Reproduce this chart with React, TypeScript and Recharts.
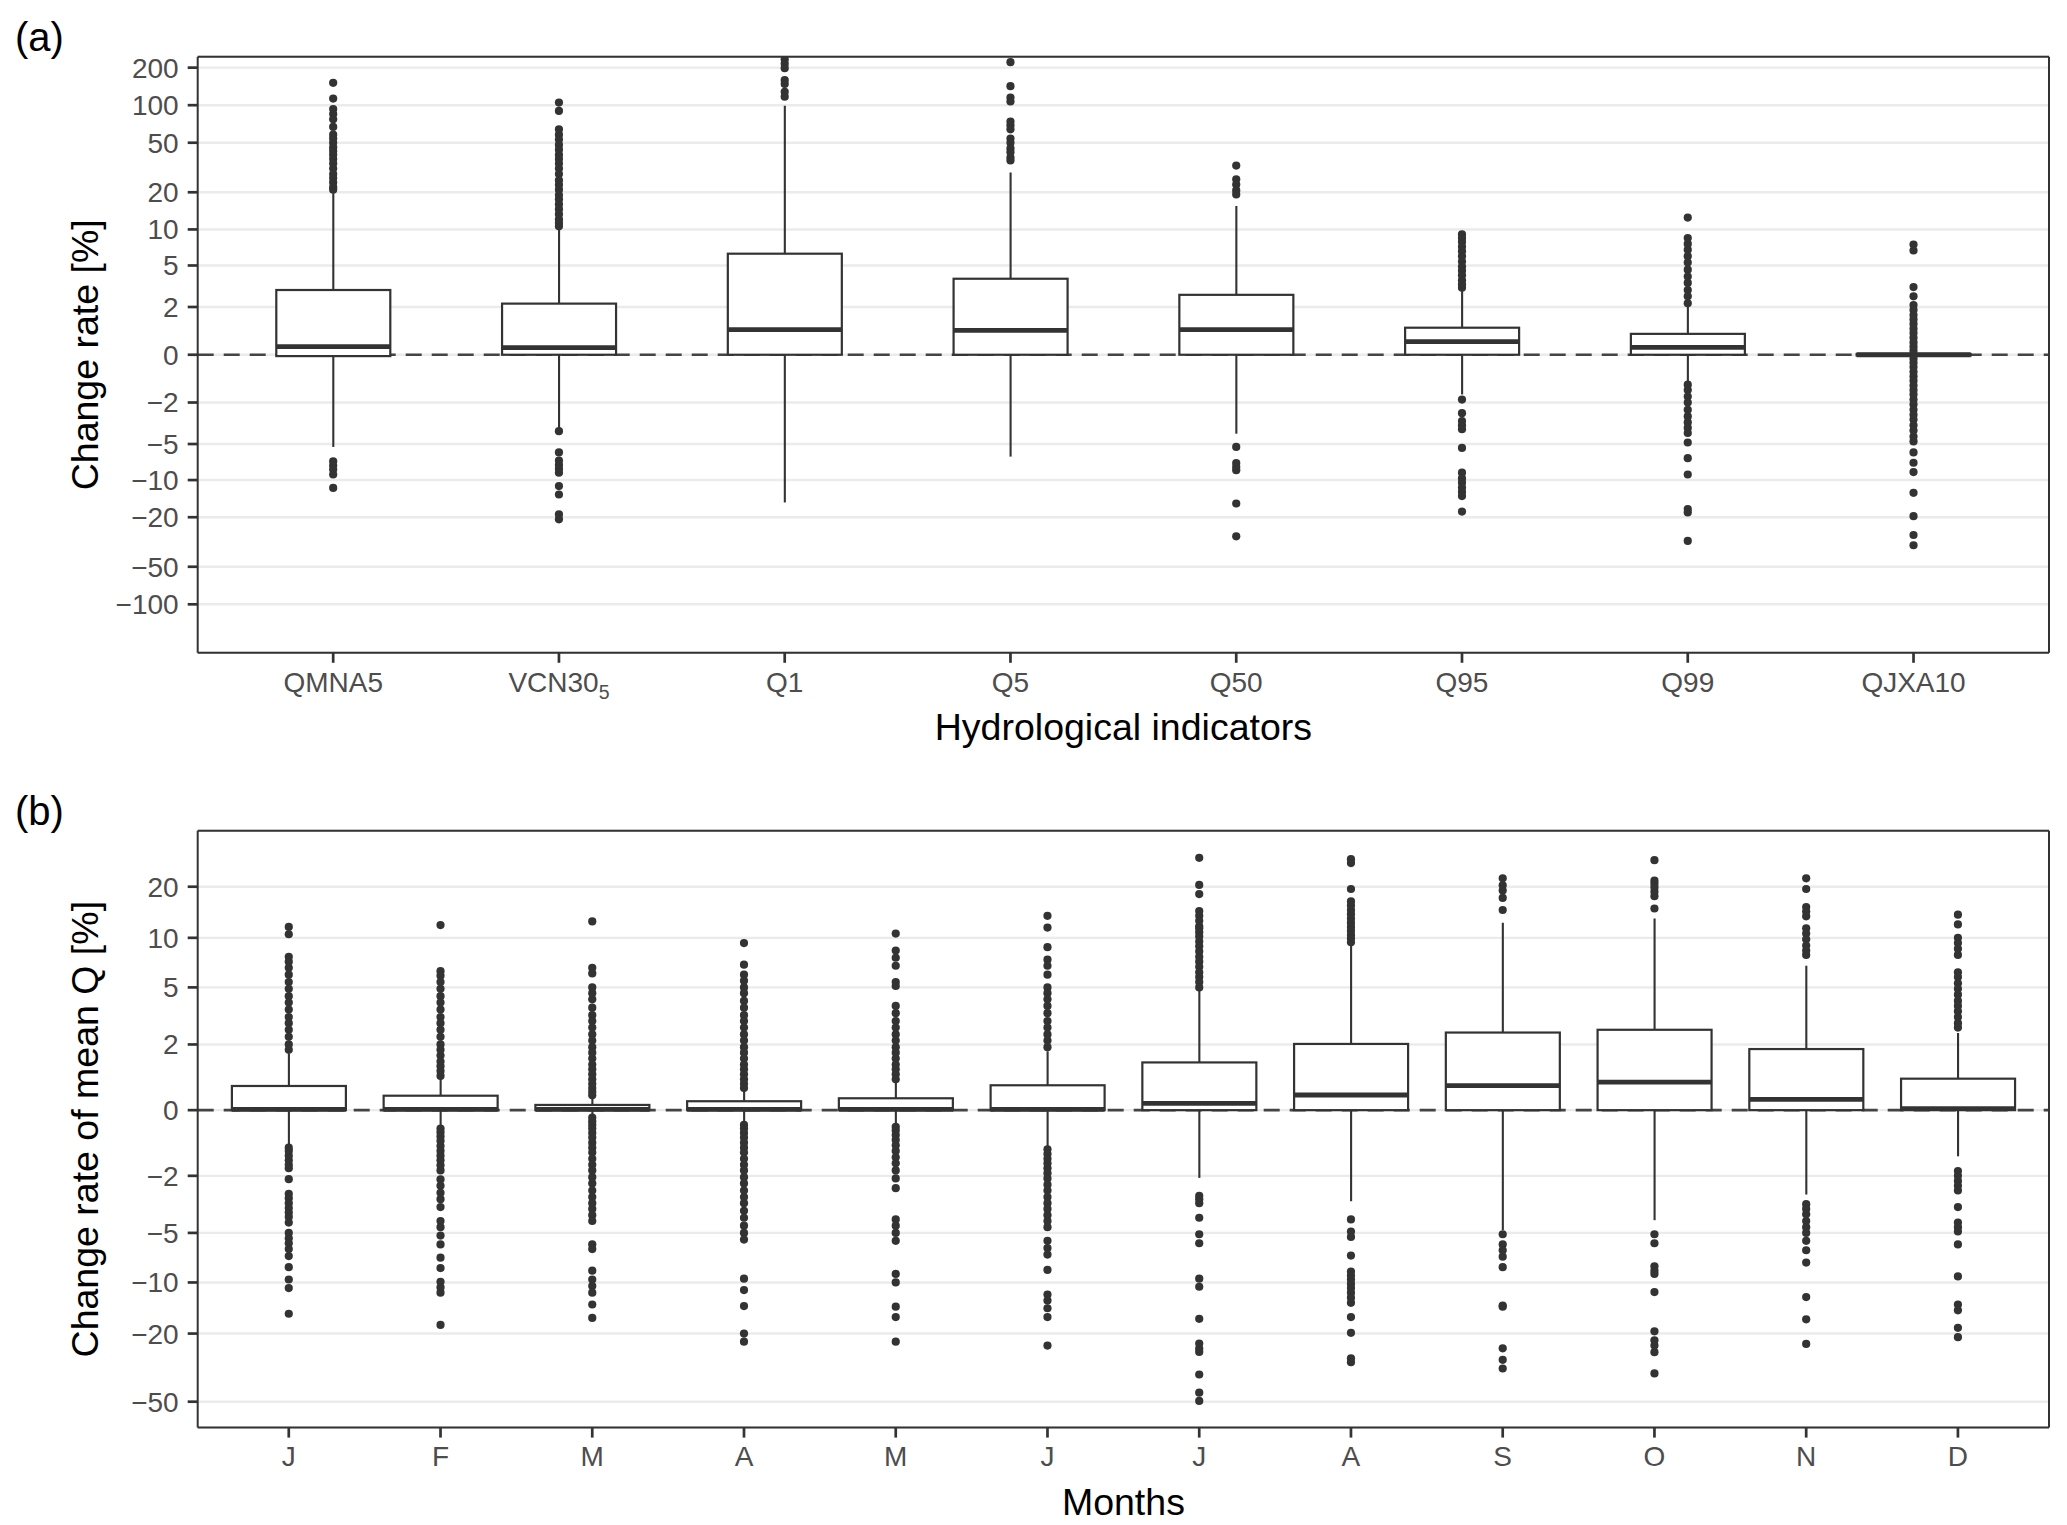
import React from 'react'
import { ComposedChart, Bar, Scatter, XAxis, YAxis, CartesianGrid, ReferenceLine } from 'recharts'

const FONT = '"Liberation Sans", Arial, Helvetica, sans-serif'
const INK = '#333333'
const TICK_INK = '#4D4D4D'
const TICK_SIZE = 28
const W = 2067
const H = 1525

// pseudo-log axis, same as scales::pseudo_log_trans(): asinh(x / 2)
const tr = (v: number) => Math.asinh(v / 2)

// ---- (a) hydrological indicators ----
const indicatorNames = ['QMNA5', 'VCN30_5', 'Q1', 'Q5', 'Q50', 'Q95', 'Q99', 'QJXA10']
const indicatorLower = [-5.3, -3.6, -15.2, -6.4, -4.06, -1.6, -1.06, -0.03]
const indicatorQ1 = [-0.05, 0, 0, 0, 0, 0, 0, -0.03]
const indicatorMedian = [0.3, 0.26, 0.96, 0.93, 0.96, 0.49, 0.27, 0]
const indicatorQ3 = [3.0, 2.18, 6.3, 3.82, 2.69, 1.04, 0.79, 0.03]
const indicatorUpper = [19.6, 10.0, 99, 28.8, 15.5, 3.0, 2.1, 0.03]
const indicatorOutliers = [
  [151, 113, 93, 85, 77, 67, 58, 54, 50, 46, 43, 40, 37, 34, 31, 28, 26, 24, 22, 21, -7.0, -7.6, -8.2, -9.0, -11.6],
  [105, 90, 64, 58, 53, 48, 44, 40, 37, 34, 31, 28, 25, 23, 21, 19, 17.5, 16, 14.6, 13.3, 12.1, 11.3, 10.6,
    -3.85, -5.9, -6.9, -7.5, -8.1, -8.7, -11.2, -13.1, -19.0, -20.8],
  [233, 215, 198, 159, 148, 128, 117],
  [221, 142, 115, 107, 74, 69, 64, 54, 50, 45, 42, 38, 36],
  [32.8, 25.4, 23.1, 20.7, 19.2, -5.3, -7.25, -7.8, -8.3, -15.5, -28.5],
  [9.1, 8.5, 7.9, 7.2, 6.6, 6.0, 5.4, 4.9, 4.5, 4.1, 3.7, 3.4, 3.16,
    -1.85, -2.6, -3.1, -3.4, -3.7, -5.4, -8.7, -9.7, -10.5, -11.5, -12.5, -13.5, -18],
  [12.5, 8.5, 7.6, 6.8, 6.0, 5.3, 4.6, 4.0, 3.5, 3.0, 2.6, 2.2,
    -1.16, -1.4, -1.7, -2.0, -2.4, -2.8, -3.2, -3.6, -4.0, -4.85, -6.6, -9.0, -17.2, -18.3, -31],
  [7.5, 6.7, 3.2, 2.6, 2.1, 1.85, 1.6, 1.4, 1.2, 1.0, 0.82, 0.64, 0.46, 0.3, 0.15,
    -0.15, -0.3, -0.46, -0.64, -0.82, -1.0, -1.2, -1.4, -1.6, -1.85, -2.1, -2.4, -2.7, -3.0, -3.4, -3.8, -4.3, -4.75,
    -5.9, -7.2, -8.6, -12.7, -19.6, -27.8, -33.6],
]
const indicatorTicks = [200, 100, 50, 20, 10, 5, 2, 0, -2, -5, -10, -20, -50, -100]

// ---- (b) months ----
const monthIds = ['Jan', 'Feb', 'Mar', 'Apr', 'May', 'Jun', 'Jul', 'Aug', 'Sep', 'Oct', 'Nov', 'Dec']
const monthLabels = ['J', 'F', 'M', 'A', 'M', 'J', 'J', 'A', 'S', 'O', 'N', 'D']
const monthLower = [-1.0, -0.44, -0.15, -0.34, -0.4, -1.04, -2.08, -3.1, -4.8, -4.15, -2.78, -1.32]
const monthQ1 = [0, 0, 0, 0, 0, 0, 0, 0, 0, 0, 0, 0]
const monthMedian = [0.02, 0.02, 0.02, 0.02, 0.02, 0.02, 0.18, 0.41, 0.67, 0.77, 0.29, 0.04]
const monthQ3 = [0.66, 0.39, 0.14, 0.24, 0.32, 0.68, 1.37, 2.02, 2.48, 2.6, 1.83, 0.87]
const monthUpper = [1.67, 0.9, 0.33, 0.54, 0.78, 1.75, 4.8, 9.0, 12.3, 13.0, 6.8, 2.46]
const monthOutliers = [
  [11.6, 10.5, 7.7, 7.2, 6.6, 6.0, 5.4, 4.9, 4.4, 4.0, 3.6, 3.2, 2.9, 2.6, 2.3, 2.0, 1.8,
    -1.05, -1.15, -1.3, -1.45, -1.6, -1.72, -2.13, -2.75, -2.95, -3.2, -3.45, -3.7, -3.95, -4.3,
    -5.0, -5.4, -5.8, -6.3, -6.95, -8.1, -9.6, -10.8, -15.3],
  [11.9, 6.3, 5.9, 5.4, 4.9, 4.4, 4.0, 3.6, 3.2, 2.9, 2.6, 2.3, 2.0, 1.8, 1.6, 1.4, 1.25, 1.1, 0.95,
    -0.5, -0.6, -0.72, -0.85, -1.0, -1.15, -1.3, -1.45, -1.62, -1.8, -2.14, -2.4, -2.7, -3.0, -3.4,
    -4.2, -4.6, -5.2, -5.9, -7.1, -8.2, -9.9, -10.7, -11.5, -17.8],
  [12.5, 6.6, 6.1, 5.0, 4.6, 4.2, 3.7, 3.3, 3.0, 2.7, 2.4, 2.15, 1.9, 1.7, 1.5, 1.3, 1.15, 1.0, 0.85, 0.72, 0.6, 0.5, 0.4,
    -0.2, -0.3, -0.4, -0.5, -0.62, -0.75, -0.9, -1.05, -1.2, -1.4, -1.6, -1.8, -2.05, -2.3, -2.6, -2.9, -3.2, -3.5,
    -3.85, -4.2, -5.9, -6.3, -8.5, -9.6, -10.5, -11.5, -13.5, -16.2],
  [9.3, 6.9, 6.0, 5.5, 5.0, 4.6, 4.1, 3.7, 3.3, 3.0, 2.7, 2.4, 2.15, 1.9, 1.7, 1.5, 1.3, 1.15, 1.0, 0.85, 0.72, 0.6,
    -0.4, -0.5, -0.62, -0.75, -0.9, -1.05, -1.2, -1.4, -1.6, -1.8, -2.05, -2.3, -2.6, -2.9, -3.2, -3.6, -4.0,
    -4.5, -5.0, -5.5, -9.5, -11.1, -13.8, -20.0, -22.3],
  [10.6, 8.4, 7.6, 6.8, 5.4, 5.1, 3.8, 3.4, 3.0, 2.7, 2.4, 2.15, 1.9, 1.7, 1.5, 1.3, 1.15, 1.0, 0.85,
    -0.45, -0.55, -0.68, -0.82, -0.98, -1.15, -1.35, -1.55, -1.8, -2.1, -2.5,
    -4.1, -4.5, -5.0, -5.6, -8.9, -10.0, -13.9, -16.0, -22.3],
  [13.5, 11.5, 8.8, 7.4, 6.8, 6.0, 5.0, 4.6, 4.2, 3.8, 3.4, 3.0, 2.7, 2.4, 2.15, 1.9,
    -1.1, -1.25, -1.4, -1.55, -1.72, -1.9, -2.1, -2.35, -2.6, -2.9, -3.2, -3.5, -3.85, -4.2, -4.6,
    -5.6, -6.2, -6.8, -8.4, -11.8, -12.8, -14.2, -16.0, -23.5],
  [29.5, 20.5, 18.1, 14.4, 13.5, 12.6, 11.7, 11.4, 10.8, 10.2, 9.5, 8.9, 8.3, 7.7, 7.2, 6.7, 6.2, 5.8, 5.4, 5.0,
    -2.84, -3.0, -3.2, -4.0, -5.1, -5.8, -9.5, -10.6, -16.4, -22.9, -24.5, -25.6, -34.7, -44.3, -49.5],
  [29.0, 27.5, 19.4, 16.4, 15.5, 14.6, 13.8, 13.0, 12.3, 11.6, 11.0, 10.4, 9.9, 9.4,
    -4.1, -4.9, -5.3, -6.9, -8.6, -9.1, -9.6, -10.2, -10.8, -11.5, -12.3, -13.2, -16.0, -19.8, -27.9, -29.4],
  [22.4, 20.4, 19.0, 17.2, 14.6, -5.1, -5.9, -6.4, -7.0, -8.1, -13.7, -13.9, -24.4, -28.5, -32.0],
  [28.6, 21.7, 20.8, 19.8, 18.7, 17.6, 14.9, -5.1, -5.8, -8.0, -8.5, -8.9, -11.4, -19.4, -21.9, -23.5, -25.7, -34.2],
  [22.4, 19.4, 15.2, 14.3, 13.4, 11.4, 10.6, 9.8, 9.0, 8.4, 7.9,
    -3.25, -3.5, -3.8, -4.2, -4.6, -5.0, -5.6, -6.4, -7.6, -12.2, -16.5, -23.0],
  [13.7, 12.0, 10.0, 9.3, 8.6, 7.9, 6.2, 5.8, 5.3, 4.9, 4.5, 4.1, 3.8, 3.5, 3.2, 2.9, 2.7,
    -1.82, -2.0, -2.2, -2.4, -2.6, -3.4, -4.3, -4.6, -4.9, -5.9, -9.2, -13.5, -14.6, -18.5, -21.0],
]
const monthTicks = [20, 10, 5, 2, 0, -2, -5, -10, -20, -50]

type Row = { id: string; tlo: number; tq1: number; tmed: number; tq3: number; thi: number; box: [number, number] }

const buildRows = (ids: string[], lo: number[], q1: number[], med: number[], q3: number[], hi: number[]): Row[] =>
  ids.map((id, i) => ({
    id,
    tlo: tr(lo[i]),
    tq1: tr(q1[i]),
    tmed: tr(med[i]),
    tq3: tr(q3[i]),
    thi: tr(hi[i]),
    box: [tr(q1[i]), tr(q3[i])],
  }))

const buildPoints = (ids: string[], outliers: number[][]) =>
  ids.flatMap((id, i) => outliers[i].map((v) => ({ id, t: tr(v) })))

const fmtTick = (t: number) => {
  const v = Math.round(2 * Math.sinh(t))
  return v < 0 ? `\u2212${Math.abs(v)}` : `${v}`
}

// box, median and whiskers drawn from the bar rectangle of the [q1, q3] range
const BoxShape = (props: any) => {
  const { x, y, width, height, payload } = props
  const top = Math.min(y, y + height)
  const h = Math.abs(height)
  const k = h / (payload.tq3 - payload.tq1)
  const py = (t: number) => top + (payload.tq3 - t) * k
  const cx = x + width / 2
  return (
    <g>
      <line x1={cx} x2={cx} y1={py(payload.thi)} y2={top} stroke={INK} strokeWidth={2.1} />
      <line x1={cx} x2={cx} y1={top + h} y2={py(payload.tlo)} stroke={INK} strokeWidth={2.1} />
      <rect x={x} y={top} width={width} height={h} fill="#ffffff" stroke={INK} strokeWidth={2.2} />
      <line x1={x} x2={x + width} y1={py(payload.tmed)} y2={py(payload.tmed)} stroke={INK} strokeWidth={4.8} />
    </g>
  )
}

const Dot = (p: any) => <circle cx={p.cx} cy={p.cy} r={4.1} fill={INK} />

type PanelProps = {
  rows: Row[]
  points: { id: string; t: number }[]
  ticks: number[]
  domain: [number, number]
  height: number
  marginTop: number
  xAxisHeight: number
  xPad: number
  renderTick: (p: any) => React.ReactElement
}

function BoxPanel({ rows, points, ticks, domain, height, marginTop, xAxisHeight, xPad, renderTick }: PanelProps) {
  const border = { stroke: INK, strokeWidth: 2 }
  return (
    <ComposedChart width={W} height={height} data={rows} margin={{ top: marginTop - 1, right: 17, bottom: 0, left: 0 }}>
      <CartesianGrid vertical={false} stroke="#EBEBEB" strokeWidth={2.4} />
      <XAxis
        dataKey="id"
        type="category"
        allowDuplicatedCategory={false}
        interval={0}
        padding={{ left: xPad, right: xPad }}
        height={xAxisHeight}
        tickSize={10}
        tickMargin={9}
        tickLine={{ stroke: INK, strokeWidth: 2.7 }}
        axisLine={border}
        tick={renderTick}
      />
      {/* top and right axes only draw the panel border */}
      <XAxis
        xAxisId="top"
        orientation="top"
        dataKey="id"
        type="category"
        allowDuplicatedCategory={false}
        padding={{ left: xPad, right: xPad }}
        height={1}
        tick={false}
        tickLine={false}
        axisLine={border}
      />
      <YAxis
        type="number"
        domain={domain}
        allowDataOverflow
        ticks={ticks.map(tr)}
        interval={0}
        width={197.7}
        tickFormatter={fmtTick}
        tickSize={10}
        tickMargin={9}
        tickLine={{ stroke: INK, strokeWidth: 2.7 }}
        axisLine={border}
        tick={{ fill: TICK_INK, fontSize: TICK_SIZE, fontFamily: FONT }}
      />
      <YAxis
        yAxisId="right"
        orientation="right"
        type="number"
        domain={domain}
        allowDataOverflow
        width={1}
        tick={false}
        tickLine={false}
        axisLine={border}
      />
      <ReferenceLine y={0} stroke="#444444" strokeWidth={2.7} strokeDasharray="16 10" zIndex={250} />
      <Bar dataKey="box" barSize={114} shape={BoxShape} isAnimationActive={false} />
      <Scatter data={points} dataKey="t" shape={Dot} isAnimationActive={false} />
    </ComposedChart>
  )
}

const IndicatorTick = (props: any) => {
  const { x, y, payload } = props
  const [main, sub] = String(payload.value).split('_')
  return (
    <text x={x} y={y} dy="0.71em" textAnchor="middle" fontSize={TICK_SIZE} fill={TICK_INK} fontFamily={FONT}>
      {main}
      {sub && (
        <tspan fontSize={19.5} dy={7.5}>
          {sub}
        </tspan>
      )}
    </text>
  )
}

const MonthTick = (props: any) => {
  const { x, y, payload } = props
  const label = monthLabels[monthIds.indexOf(payload.value)] ?? payload.value
  return (
    <text x={x} y={y} dy="0.71em" textAnchor="middle" fontSize={TICK_SIZE} fill={TICK_INK} fontFamily={FONT}>
      {label}
    </text>
  )
}

export default function App() {
  const rowsA = buildRows(indicatorNames, indicatorLower, indicatorQ1, indicatorMedian, indicatorQ3, indicatorUpper)
  const pointsA = buildPoints(indicatorNames, indicatorOutliers)
  const rowsB = buildRows(monthIds, monthLower, monthQ1, monthMedian, monthQ3, monthUpper)
  const pointsB = buildPoints(monthIds, monthOutliers)

  return (
    <div style={{ position: 'relative', width: W, height: H, background: '#ffffff', fontFamily: FONT }}>
      <style>{'body{margin:0}'}</style>
      <div style={{ position: 'absolute', left: 0, top: 0 }}>
        <BoxPanel
          rows={rowsA}
          points={pointsA}
          ticks={indicatorTicks}
          domain={[-5.5, 5.5]}
          height={770}
          marginTop={56.7}
          xAxisHeight={117.2}
          xPad={22.6}
          renderTick={IndicatorTick}
        />
      </div>
      <div style={{ position: 'absolute', left: 0, top: 770 }}>
        <BoxPanel
          rows={rowsB}
          points={pointsB}
          ticks={monthTicks}
          domain={[-4.26, 3.75]}
          height={755}
          marginTop={60.7}
          xAxisHeight={97.4}
          xPad={15.2}
          renderTick={MonthTick}
        />
      </div>
      <svg
        width={W}
        height={H}
        style={{ position: 'absolute', left: 0, top: 0, pointerEvents: 'none' }}
        fontFamily={FONT}
      >
        <text x={15} y={50.7} fontSize={40} fill="#000">(a)</text>
        <text x={15} y={824.7} fontSize={40} fill="#000">(b)</text>
        <text x={1123.4} y={740} fontSize={37.5} textAnchor="middle" fill="#000">Hydrological indicators</text>
        <text x={1123.4} y={1514.6} fontSize={37.5} textAnchor="middle" fill="#000">Months</text>
        <text x={98} y={354.8} fontSize={37.5} textAnchor="middle" fill="#000" transform="rotate(-90 98 354.8)">
          Change rate [%]
        </text>
        <text x={98} y={1129.2} fontSize={37.5} textAnchor="middle" fill="#000" transform="rotate(-90 98 1129.2)">
          Change rate of mean Q [%]
        </text>
      </svg>
    </div>
  )
}
